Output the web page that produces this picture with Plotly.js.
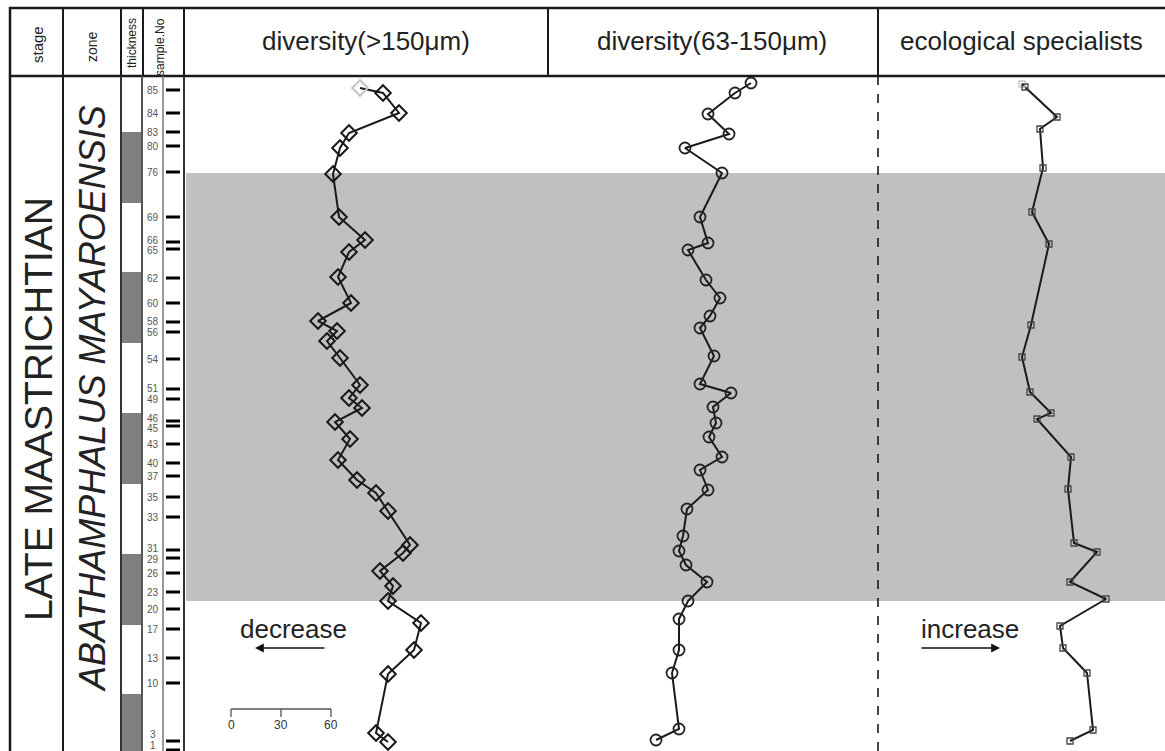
<!DOCTYPE html>
<html><head><meta charset="utf-8">
<script src="https://cdn.plot.ly/plotly-3.0.1.min.js"></script>
<style>html,body{margin:0;padding:0;background:#fff}#chart{width:1165px;height:751px}</style>
</head><body><div id="chart"></div>
<script>
// ---------- DATA ----------
const sampleNo = ['85','84','83','80','76','69','66','65','62','60','58','56','54','51','49','46','45','43','40','37','35','33','31','29','26','23','20','17','13','10','3','1'];
const sampleHeight = [66.1,63.8,61.9,60.5,57.9,53.4,50.9,50.2,47.3,44.8,42.9,41.9,39.2,36.2,35.2,33.0,32.5,30.7,28.8,27.5,25.4,23.4,20.1,19.3,17.8,15.9,14.2,12.2,9.3,6.8,1.0,0.1];

const div150Height = [66.3,65.8,63.8,61.8,60.3,57.7,53.4,51.1,49.9,47.4,44.8,43.0,42.0,41.0,39.3,36.6,35.3,34.3,32.9,31.2,29.1,27.1,25.8,24.0,20.6,19.8,18.0,16.5,15.0,12.8,10.1,7.7,1.8,0.9];
const div150 = [77.4,91.2,100.8,70.8,65.4,61.2,64.8,80.4,70.8,64.2,72.0,52.2,63.6,57.6,65.4,77.4,70.8,78.6,62.4,71.4,64.2,75.6,87.0,94.2,107.4,103.2,89.4,97.2,94.2,114.0,109.8,94.2,87.0,94.2];

const div63Height = [66.8,65.8,63.7,61.7,60.3,57.8,53.4,50.8,50.1,47.1,45.3,43.5,42.3,39.5,36.7,35.8,34.4,32.8,31.4,29.4,28.1,26.1,24.2,21.5,20.0,18.6,16.9,15.0,13.2,10.1,7.8,2.2,1.1];
const div63 = [121.8,112.2,96.0,108.6,82.2,104.4,91.2,96.0,84.0,94.8,103.2,97.2,91.2,99.6,91.2,109.8,99.0,100.8,96.6,104.4,91.2,96.0,83.4,81.0,78.6,82.8,95.4,84.0,78.6,78.6,74.4,78.6,64.8];

const specHeight = [66.7,66.4,63.4,62.2,58.3,53.9,50.7,42.6,39.4,35.9,33.8,33.2,29.4,26.2,20.8,19.9,16.9,15.2,12.5,10.3,7.8,2.1,1.0];
const spec = [86.4,88.2,107.4,97.2,99.0,92.4,102.6,91.8,86.4,91.2,103.8,95.4,115.8,114.0,117.6,131.4,115.2,136.8,109.2,111.0,125.4,129.0,115.2];

const lithoBottom = [54.8,40.8,26.7,12.6,0];
const lithoTop = [61.9,47.9,33.8,19.7,5.7];
const bandBottom = 15.0, bandTop = 57.8;
const scaleTicks = [0,30,60];

const headers = ['stage','zone','thickness','sample.No','diversity(>150μm)','diversity(63-150μm)','ecological specialists'];

// ---------- LAYOUT HELPERS ----------
const W = 1165, H = 751;
const px = x => x / W;
const py = y => 1 - y / H;
const K = 0.6;           // value units per pixel
const PXH = 10;          // pixels per height unit
const FONT = 'Liberation Sans, Arial, Helvetica, sans-serif';
const INK = '#1a1a1a';

function xa(d0, d1, zeroPx) {
  return {domain:[px(d0), px(d1)], range:[(d0-zeroPx)*K, (d1-zeroPx)*K], anchor:'y',
          showgrid:false, zeroline:false, showticklabels:false, ticks:'', showline:false, fixedrange:true};
}

const traces = [
  {x: div150, y: div150Height, xaxis:'x', yaxis:'y', mode:'lines+markers', type:'scatter',
   line:{color:INK, width:2},
   marker:{symbol:'diamond', size:12, color:'rgba(0,0,0,0)',
           line:{color: div150.map((v,i)=> i===0 ? '#c4c4c4' : INK), width:2}}},
  {x: div63, y: div63Height, xaxis:'x2', yaxis:'y', mode:'lines+markers', type:'scatter',
   line:{color:INK, width:2},
   marker:{symbol:'circle', size:11, color:'rgba(0,0,0,0)', line:{color:'#222', width:1.8}}},
  {x: spec, y: specHeight, xaxis:'x3', yaxis:'y', mode:'lines+markers', type:'scatter',
   line:{color:INK, width:2},
   marker:{symbol:'square', size:6, color:'rgba(0,0,0,0)',
           line:{color: spec.map((v,i)=> i===0 ? '#c4c4c4' : '#444'), width:1.3}}},
  {x: sampleNo.map(()=>31), y: sampleHeight, xaxis:'x4', yaxis:'y', mode:'markers', type:'scatter',
   marker:{symbol:'line-ew', size:10, line:{color:'#000', width:3}}}
];

const shapes = [];
shapes.push({type:'rect', xref:'paper', yref:'y', x0:px(186), x1:1, y0:bandBottom, y1:bandTop,
             fillcolor:'#c0c0c0', line:{width:0}, layer:'below'});
lithoBottom.forEach((b,i)=> shapes.push({type:'rect', xref:'paper', yref:'y', x0:px(122), x1:px(142),
             y0:b, y1:lithoTop[i], fillcolor:'#7f7f7f', line:{width:0}, layer:'below'}));
shapes.push({type:'rect', xref:'paper', yref:'paper', x0:px(10), x1:px(1168), y0:py(76), y1:py(8),
             line:{color:INK, width:2.5}, fillcolor:'rgba(0,0,0,0)'});
[63,121,143,184,548,878].forEach(x=> shapes.push({type:'line', xref:'paper', yref:'paper',
             x0:px(x), x1:px(x), y0:py(76), y1:py(8), line:{color:INK, width:2}}));
[[10,2.5,INK],[63,2,INK],[121,2,'#333'],[142,2,'#555'],[163,1.5,'#777'],[184,2,'#333']].forEach(([x,w,c])=>
  shapes.push({type:'line', xref:'paper', yref:'paper', x0:px(x), x1:px(x), y0:py(76), y1:0,
               line:{color:c, width:w}}));
shapes.push({type:'line', xref:'paper', yref:'paper', x0:px(878), x1:px(878), y0:py(76), y1:0,
             line:{color:INK, width:1.6, dash:'dash'}});
shapes.push({type:'line', xref:'x', yref:'y', x0:scaleTicks[0], x1:scaleTicks[scaleTicks.length-1], y0:4.2, y1:4.2,
             line:{color:'#555', width:1.3}});
scaleTicks.forEach(t=> shapes.push({type:'line', xref:'x', yref:'y', x0:t, x1:t, y0:4.2, y1:3.4,
             line:{color:'#555', width:1.3}}));

const annotations = [];
// sample number labels, spread apart where ticks are crowded
const MIN_GAP = 10.5; // px
const labY = sampleHeight.map(h => H - h*PXH); // pixel centres
const adj = labY.slice();
for (let iter=0; iter<20; iter++) {
  for (let i=1; i<adj.length; i++) {
    const gap = adj[i]-adj[i-1];
    if (gap < MIN_GAP) { const d=(MIN_GAP-gap)/2; adj[i-1]-=d; adj[i]+=d; }
  }
  const maxY = H-6;
  if (adj[adj.length-1] > maxY) adj[adj.length-1] = maxY;
}
sampleNo.forEach((s,i)=> annotations.push({text:s, xref:'x4', yref:'y', x:11, y:sampleHeight[i],
   yshift: labY[i]-adj[i], showarrow:false, font:{family:FONT, size:10, color:'#555'},
   xanchor:'center', yanchor:'middle'}));

const rotHead = [[headers[0],37,45,15],[headers[1],92,47,14],[headers[2],132,43,12],[headers[3],160,47,12]];
rotHead.forEach(([t,x,y,s])=> annotations.push({text:t, xref:'paper', yref:'paper', x:px(x), y:py(y),
   showarrow:false, textangle:-90, font:{family:FONT, size:s, color:'#222'}, xanchor:'center', yanchor:'middle'}));
[[headers[4],366],[headers[5],712],[headers[6],1021]].forEach(([t,x])=> annotations.push({text:t, xref:'paper', yref:'paper',
   x:px(x), y:py(41), showarrow:false, font:{family:FONT, size:26, color:'#222'}, xanchor:'center', yanchor:'middle'}));
annotations.push({text:'LATE MAASTRICHTIAN', xref:'paper', yref:'paper', x:px(38), y:py(409), showarrow:false,
   textangle:-90, font:{family:FONT, size:39, color:'#222'}, xanchor:'center', yanchor:'middle'});
annotations.push({text:'<i>ABATHAMPHALUS MAYAROENSIS</i>', xref:'paper', yref:'paper', x:px(93), y:py(399), showarrow:false,
   textangle:-90, font:{family:FONT, size:36, color:'#222'}, xanchor:'center', yanchor:'middle'});
annotations.push({text:'decrease', xref:'paper', yref:'paper', x:px(293), y:py(629), showarrow:false,
   font:{family:FONT, size:26, color:'#222'}, xanchor:'center', yanchor:'middle'});
annotations.push({text:'increase', xref:'paper', yref:'paper', x:px(970), y:py(629), showarrow:false,
   font:{family:FONT, size:26, color:'#222'}, xanchor:'center', yanchor:'middle'});
annotations.push({text:'', xref:'paper', yref:'paper', x:px(255), y:py(648), ax:71, ay:0, showarrow:true,
   arrowhead:2, arrowsize:1.1, arrowwidth:1.6, arrowcolor:'#111'});
annotations.push({text:'', xref:'paper', yref:'paper', x:px(1000), y:py(648), ax:-80, ay:0, showarrow:true,
   arrowhead:2, arrowsize:1.1, arrowwidth:1.6, arrowcolor:'#111'});
scaleTicks.forEach(t=> annotations.push({text:String(t), xref:'x', yref:'y', x:t, y:2.6, showarrow:false,
   font:{family:FONT, size:12, color:'#333'}, xanchor:'center', yanchor:'middle'}));

const layout = {
  width:W, height:H, margin:{l:0,r:0,t:0,b:0}, showlegend:false,
  paper_bgcolor:'#fff', plot_bgcolor:'rgba(0,0,0,0)',
  xaxis: xa(185,548,231), xaxis2: xa(548,878,548), xaxis3: xa(878,1165,878),
  xaxis4: {domain:[px(142),px(184)], range:[0,42], anchor:'y', showgrid:false, zeroline:false, showticklabels:false, ticks:'', fixedrange:true},
  yaxis: {domain:[0, 674/751], range:[0,67.4], showgrid:false, zeroline:false, showticklabels:false, ticks:'', showline:false, fixedrange:true},
  shapes, annotations
};
Plotly.newPlot('chart', traces, layout, {displayModeBar:false, staticPlot:true});
</script></body></html>
